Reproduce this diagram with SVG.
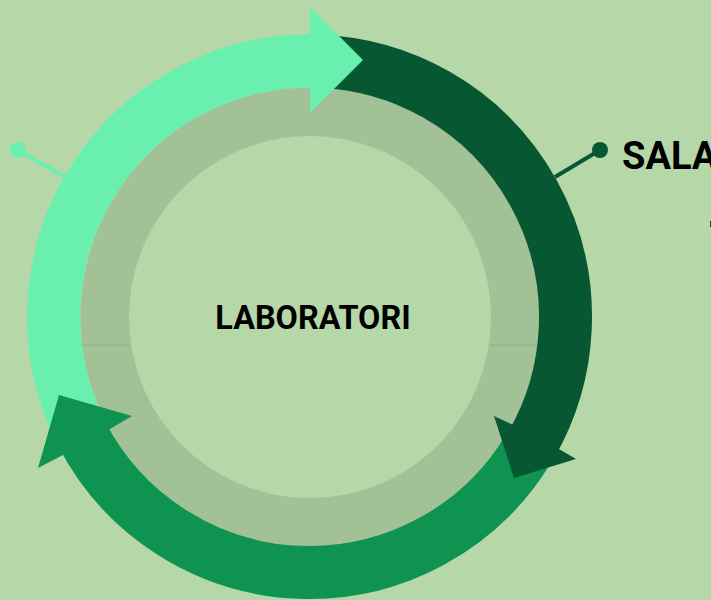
<svg xmlns="http://www.w3.org/2000/svg" width="711" height="600" viewBox="0 0 711 600">
<style>
text{font-family:Roboto,"Liberation Sans",sans-serif;font-weight:700;fill:#000}
.arc{fill:none;stroke-width:53}
.light{fill:#69F0AE}.lightS{stroke:#69F0AE}
.dark{fill:#085733}.darkS{stroke:#085733}
.green{fill:#0F9351}.greenS{stroke:#0F9351}
</style>
<rect width="711" height="600" fill="#B6D7A8"/>
<g id="inner-ring">
<circle cx="310" cy="317" r="205.25" fill="none" stroke="#A3C197" stroke-width="48.5"/>
<path d="M81 345H130M490 345H538" stroke="#8FAF85" stroke-width="1" fill="none"/>
</g>
<g id="connectors" stroke-width="4" fill="none">
<path d="M65 177L18 150" class="lightS"/>
<path d="M555 177L600 150" class="darkS"/>
</g>
<g id="pins">
<circle cx="18" cy="150" r="8" class="light"/>
<circle cx="600" cy="150" r="8" class="dark"/>
</g>
<g id="arcs">
<path class="arc lightS" d="M79 428A256 256 0 0 1 311 61"/>
<path class="arc darkS" d="M320 61.2A256 256 0 0 1 531.2 445"/>
<path class="arc greenS" d="M528 449.5A256 256 0 0 1 81.4 433.2"/>
</g>
<g id="arrowheads">
<polygon class="green" points="59,395 132,416 110,429 63,455 38,468"/>
<polygon class="dark" points="514,478 576,459 559,449 511,424 494,416"/>
<polygon class="light" points="310,7 363,60 310,113"/>
</g>
<g id="center-label"><text x="313" y="329" font-size="32.4" text-anchor="middle">LABORATORI</text></g>
<g id="right-label"><text x="622" y="169" font-size="38">SALA</text></g>
<rect id="clipped-mark" x="710" y="221" width="1" height="6" fill="#333"/>
</svg>
